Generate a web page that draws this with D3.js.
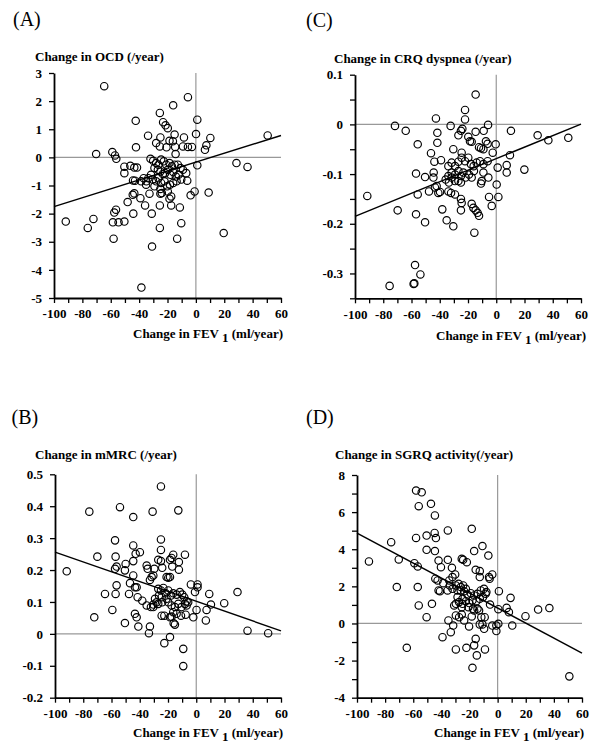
<!DOCTYPE html>
<html>
<head>
<meta charset="utf-8">
<script src="https://cdn.jsdelivr.net/npm/d3@7"></script>
<style>
  body { margin: 0; background: #fff; }
  svg text { font-family: "Liberation Serif", "Times New Roman", serif; }
</style>
</head>
<body>
<svg id="chart" width="600" height="753"></svg>
<script>
// shared x axis: change in FEV1 (ml/year)
const fevTicks = [-100, -90, -80, -70, -60, -50, -40, -30, -20, -10, 0, 10, 20, 30, 40, 50, 60];
const fevLabels = [-100, -80, -60, -40, -20, 0, 20, 40, 60];

// (A) OCD
const ocdTicks = [-5, -4, -3, -2, -1, 0, 1, 2, 3];
const ocdLabels = [-5, -4, -3, -2, -1, 0, 1, 2, 3];
const ocdFit = [-0.17, 0.0158]; // intercept, slope
const ocdPoints = [
  [-64.6,2.53],[-5.6,2.14],[-16.0,1.85],[-25.4,1.58],[1.0,1.34],[-42.4,1.30],[-23.1,1.25],[-21.4,1.14],
  [-19.8,1.04],[-33.7,0.77],[-15.0,0.81],[0.1,0.83],[-25.0,0.71],[-18.6,0.59],[-16.2,0.57],[-8.4,0.71],
  [10.2,0.69],[50.6,0.78],[-28.0,0.51],[-42.2,0.36],[-25.4,0.39],[-20.7,0.36],[-14.6,0.37],[-9.1,0.39],
  [-5.6,0.37],[-2.8,0.37],[7.4,0.43],[6.4,0.27],[-14.3,0.12],[-58.9,0.19],[-57.0,0.07],[-56.1,-0.05],
  [-70.3,0.12],[28.6,-0.20],[36.4,-0.34],[1.0,-0.28],[-50.4,-0.33],[-46.2,-0.30],[-43.4,-0.36],[-41.5,-0.36],
  [-50.4,-0.56],[-44.3,-0.82],[-42.9,-0.83],[-35.1,-0.97],[-32.7,-1.29],[-25.0,-1.29],[-44.5,-1.33],[-43.4,-1.28],
  [-48.1,-1.59],[-39.1,-1.45],[-35.8,-1.71],[-25.4,-1.71],[-18.6,-1.47],[-17.4,-1.71],[-11.3,-1.78],[-3.7,-1.35],
  [-0.9,-1.21],[9.0,-1.25],[-56.3,-1.86],[-57.5,-1.96],[-44.1,-2.00],[-31.1,-2.00],[-91.7,-2.28],[-72.2,-2.19],
  [-76.2,-2.51],[-58.5,-2.31],[-54.5,-2.31],[-50.4,-2.28],[-10.3,-2.34],[-25.4,-2.51],[-58.0,-2.89],[-13.2,-2.89],
  [19.6,-2.69],[-30.9,-3.17],[-38.4,-4.63],
  [-32.0,-0.05],[-30.1,-0.12],[-28.0,-0.20],[-26.4,-0.26],[-24.5,-0.08],[-22.6,-0.14],[-20.9,-0.26],[-18.6,-0.20],
  [-16.9,-0.32],[-15.0,-0.26],[-12.7,-0.26],[-10.8,-0.38],[-9.1,-0.44],[-6.8,-0.56],[-6.1,-0.83],[-29.2,-0.38],
  [-26.8,-0.44],[-25.0,-0.50],[-23.3,-0.59],[-21.7,-0.56],[-19.8,-0.44],[-17.9,-0.62],[-16.0,-0.52],[-14.1,-0.68],
  [-12.2,-0.62],[-10.3,-0.79],[-31.6,-0.62],[-33.5,-0.74],[-30.4,-0.79],[-28.0,-0.85],[-26.4,-0.74],[-24.5,-0.91],
  [-22.1,-0.85],[-20.2,-1.03],[-18.3,-0.97],[-16.0,-0.91],[-13.6,-0.85],[-34.9,-0.85],[-29.2,-1.03],[-25.0,-1.12],
  [-19.8,-1.21],[-17.4,-1.39],[-24.0,-1.27],[-36.8,-0.74],[-38.6,-0.85]
];

// (C) CRQ dyspnea
const crqTicks = [-0.35, -0.3, -0.25, -0.2, -0.15, -0.1, -0.05, 0, 0.05, 0.1];
const crqLabels = [-0.3, -0.2, -0.1, 0, 0.1];
const crqFit = [-0.069, 0.00116];
const crqPoints = [
  [-14.6,0.060],[-22.1,0.029],[-22.1,0.010],[-42.7,0.012],[-71.7,-0.003],[-64.1,-0.013],[-32.3,-0.003],[-24.0,-0.009],
  [-25.0,-0.013],[-41.7,-0.017],[-26.8,-0.022],[-14.6,-0.015],[-8.9,-0.013],[-5.8,-0.001],[10.4,-0.013],[29.3,-0.022],
  [36.9,-0.032],[51.0,-0.027],[-55.6,-0.040],[-41.7,-0.037],[-19.8,-0.025],[-18.6,-0.034],[-17.4,-0.035],[-7.3,-0.034],
  [-6.1,-0.039],[-12.2,-0.046],[-10.8,-0.048],[-9.1,-0.050],[-0.4,-0.040],[-46.2,-0.058],[-30.4,-0.050],[-24.5,-0.057],
  [-2.5,-0.057],[9.7,-0.062],[-43.8,-0.075],[-39.1,-0.072],
  [-33.9,-0.084],[-31.6,-0.077],[-29.2,-0.084],[-26.8,-0.075],[-24.5,-0.067],[-22.1,-0.074],[-19.8,-0.067],[-17.9,-0.080],
  [-16.0,-0.084],[-13.9,-0.077],[-11.5,-0.074],[-9.1,-0.080],[-6.1,-0.074],
  [1.0,-0.087],[7.4,-0.082],[7.4,-0.097],[19.9,-0.091],[-56.8,-0.099],[-50.4,-0.106],[-44.3,-0.097],[-44.5,-0.107],
  [-31.6,-0.097],[-29.2,-0.101],[-26.8,-0.094],[-25.0,-0.104],[-23.3,-0.097],[-21.7,-0.107],[-19.3,-0.101],[-17.4,-0.107],
  [-15.8,-0.094],[-25.0,-0.117],[-29.2,-0.114],[-26.8,-0.114],[-31.6,-0.107],[-33.9,-0.104],[-35.8,-0.111],[-33.5,-0.117],
  [-9.1,-0.097],[-10.3,-0.114],[-10.8,-0.119],[-5.6,-0.107],[0.3,-0.121],[-91.3,-0.144],[-55.6,-0.141],[-47.6,-0.135],
  [-43.4,-0.127],[-42.2,-0.124],[-41.0,-0.138],[-39.8,-0.136],[-33.9,-0.135],[-32.0,-0.138],[-29.2,-0.141],[-5.1,-0.146],
  [1.5,-0.146],[-69.8,-0.173],[-56.8,-0.181],[-38.2,-0.171],[-25.0,-0.150],[-24.5,-0.158],[-25.0,-0.173],[-17.4,-0.160],
  [-16.2,-0.168],[-14.6,-0.173],[-13.2,-0.178],[-12.2,-0.184],[-3.2,-0.164],[-50.4,-0.197],[-35.1,-0.193],[-30.4,-0.205],
  [-15.5,-0.218],[-57.5,-0.283],[-53.7,-0.302],[-58.0,-0.320],[-58.5,-0.321],[-75.5,-0.325]
];

// (B) mMRC
const mmrcTicks = [-0.2, -0.1, 0, 0.1, 0.2, 0.3, 0.4, 0.5];
const mmrcLabels = [-0.2, -0.1, 0, 0.1, 0.2, 0.3, 0.4, 0.5];
const mmrcFit = [0.102, -0.00154];
const mmrcPoints = [
  [-25.0,0.462],[-75.7,0.383],[-54.0,0.397],[-44.6,0.366],[-30.9,0.383],[-12.7,0.387],[-25.0,0.296],[-25.0,0.263],
  [-57.5,0.293],[-44.6,0.277],[-42.9,0.251],[-39.9,0.256],[-70.0,0.242],[-57.1,0.242],[-16.3,0.248],[-17.5,0.238],
  [-8.0,0.248],[-12.3,0.225],[-18.6,0.232],[-50.0,0.219],[-44.6,0.228],[-35.1,0.214],[-34.4,0.204],[-26.9,0.232],
  [-25.0,0.228],[-24.1,0.207],[-91.7,0.196],[-57.5,0.204],[-56.4,0.211],[-50.5,0.199],[-29.7,0.204],[-17.0,0.211],
  [-12.3,0.201],[-44.6,0.183],[-31.6,0.178],[-32.8,0.169],[-30.4,0.183],[-21.0,0.178],[-19.8,0.176],[-18.6,0.178],
  [-46.9,0.159],[-43.4,0.146],[-42.2,0.146],[-56.4,0.152],[-3.8,0.155],[0.9,0.155],[0.9,0.146],[-64.6,0.125],
  [-57.1,0.125],[-47.6,0.125],[-41.5,0.115],[-38.2,0.104],[-35.1,0.089],[-32.1,0.084],[-30.4,0.092],[9.2,0.125],
  [29.2,0.131],[19.8,0.096],[10.4,0.092],[-0.9,0.131],[-5.7,0.099],[-6.8,0.089],[0.2,0.075],[6.8,0.042],
  [7.3,0.075],[-59.4,0.075],[-72.2,0.052],[-50.5,0.034],[-43.4,0.063],[-42.2,0.052],[-41.0,0.023],[-32.8,0.023],
  [-33.5,0.002],[-24.5,0.057],[-22.6,0.057],[-17.5,0.054],[-16.0,0.033],[-15.1,0.029],[-10.8,0.057],[-7.5,0.060],
  [-2.1,0.052],[36.3,0.010],[50.9,0.002],[-18.6,-0.010],[-22.6,-0.029],[-9.2,-0.047],[-9.2,-0.101],
  [-26.9,0.141],[-25.0,0.136],[-23.3,0.144],[-21.7,0.127],[-19.8,0.136],[-26.4,0.120],[-24.5,0.115],[-21.0,0.110],
  [-17.9,0.120],[-16.3,0.127],[-13.9,0.123],[-11.6,0.131],[-9.9,0.123],[-8.5,0.115],[-6.8,0.102],[-29.2,0.110],
  [-28.1,0.099],[-30.4,0.084],[-26.9,0.094],[-24.1,0.099],[-19.8,0.099],[-17.5,0.089],[-15.1,0.084],[-12.7,0.094],
  [-10.4,0.084],[-16.3,0.068],[-13.9,0.063],[-18.6,0.052],[-8.0,0.094]
];

// (D) SGRQ activity
const sgrqTicks = [-4, -3, -2, -1, 0, 1, 2, 3, 4, 5, 6, 7, 8];
const sgrqLabels = [-4, -2, 0, 2, 4, 6, 8];
const sgrqFit = [0.83, -0.0404];
const sgrqPoints = [
  [-58.0,7.16],[-54.0,7.07],[-56.1,6.32],[-47.4,6.45],[-44.6,5.82],[-18.4,5.10],[-35.4,5.01],[-75.7,4.38],
  [-50.5,4.74],[-44.8,4.88],[-43.9,4.60],[-58.0,4.61],[-50.5,3.97],[-44.6,3.90],[-16.7,3.90],[-10.8,4.17],
  [-6.6,3.66],[-91.5,3.34],[-70.3,3.45],[-59.2,3.25],[-56.8,3.07],[-42.0,3.39],[-35.4,3.43],[-40.3,3.03],
  [-32.5,3.00],[-25.5,3.48],[-24.5,3.43],[-21.9,3.30],[-44.3,2.41],[-42.7,2.32],[-42.0,1.78],[-41.0,1.74],
  [-38.7,2.17],[-34.4,2.32],[-32.1,2.50],[-30.2,2.64],[-15.6,2.89],[-12.7,2.82],[-12.7,2.50],[-3.8,2.64],
  [-5.7,2.41],[-6.1,2.50],[-71.7,1.96],[-56.8,1.96],[0.9,1.74],[9.2,1.38],[-56.1,0.97],[-46.7,1.06],
  [-50.5,0.34],[-5.4,1.02],[6.4,0.84],[8.0,0.61],[19.8,0.39],[28.8,0.75],[36.8,0.83],[0.5,0.77],
  [-64.6,-1.31],[-39.2,-0.74],[-33.3,-0.47],[-35.0,0.16],[-31.6,-0.11],[-29.7,-1.40],[-22.2,-1.31],[-16.7,-1.18],
  [-15.6,-0.83],[-14.8,-1.72],[-9.0,-1.40],[-17.9,-2.39],[51.0,-2.85],[10.4,-0.11],[-3.8,-0.11],[-0.9,-0.11],
  [0.5,-0.02],[-0.9,-0.41],[-9.6,-0.29],[-12.7,-0.05],[-10.8,-0.05],[-9.2,0.34],[-11.6,0.34],[-20.3,-0.16],
  [-23.8,0.16],[-27.4,0.34],[-29.7,0.43],[-25.5,0.48],[-18.4,0.38],[-16.7,0.70],[-14.3,0.79],
  [-29.7,2.05],[-27.8,2.14],[-26.2,1.96],[-24.5,2.05],[-26.2,1.78],[-28.5,1.78],[-23.8,1.74],[-22.6,1.87],
  [-21.5,1.56],[-19.1,1.63],[-16.7,1.51],[-14.4,1.60],[-12.0,1.78],[-9.7,1.87],[-8.0,1.69],[-29.7,1.06],
  [-30.9,0.97],[-27.4,1.15],[-25.0,1.06],[-22.6,1.20],[-20.3,1.10],[-17.9,1.24],[-15.1,1.20],[-12.7,1.33],
  [-10.4,1.42],[-8.5,1.60],[-28.5,1.42],[-25.0,1.33],[-25.5,0.88],[-20.8,0.88],[-17.5,0.79],[-13.2,0.70],
  [-32.1,1.87],[-34.0,2.05],[-35.6,1.78]
];

const panels = [
  { tag: "(A)", title: "Change in OCD (/year)", pts: ocdPoints, fit: ocdFit,
    yDomain: [-5, 3], yTicks: ocdTicks, yLabels: ocdLabels,
    box: [54, 73, 281, 298], tagAt: [13, 26], titleAt: [35, 60.5], xTitleAt: [283, 338] },
  { tag: "(C)", title: "Change in CRQ dyspnea (/year)", pts: crqPoints, fit: crqFit,
    yDomain: [-0.35, 0.1], yTicks: crqTicks, yLabels: crqLabels,
    box: [355, 74.7, 581, 298.3], tagAt: [306, 27], titleAt: [334, 63], xTitleAt: [586, 340] },
  { tag: "(B)", title: "Change in mMRC (/year)", pts: mmrcPoints, fit: mmrcFit,
    yDomain: [-0.2, 0.5], yTicks: mmrcTicks, yLabels: mmrcLabels,
    box: [55, 474.3, 281, 697.7], tagAt: [11.5, 424], titleAt: [35, 459], xTitleAt: [283, 736.5] },
  { tag: "(D)", title: "Change in SGRQ activity(/year)", pts: sgrqPoints, fit: sgrqFit,
    yDomain: [-4, 8], yTicks: sgrqTicks, yLabels: sgrqLabels,
    box: [357, 475, 582, 697.7], tagAt: [306, 424], titleAt: [335, 459], xTitleAt: [584, 736.5] }
];

const svg = d3.select("#chart");
const fmt = v => String(+v.toFixed(2));

panels.forEach(p => {
  const [x0, y0, x1, y1] = p.box;
  const x = d3.scaleLinear().domain([-100, 60]).range([x0, x1]);
  const y = d3.scaleLinear().domain(p.yDomain).range([y1, y0]);
  const g = svg.append("g");

  g.append("text").attr("x", p.tagAt[0]).attr("y", p.tagAt[1])
    .style("font-size", "20px").text(p.tag);

  g.append("text").attr("x", p.titleAt[0]).attr("y", p.titleAt[1])
    .style("font-size", "13px").style("font-weight", "bold").text(p.title);

  // zero reference lines
  g.append("line").attr("x1", x0).attr("x2", x1).attr("y1", y(0)).attr("y2", y(0))
    .attr("stroke", "#999").attr("stroke-width", 1.2);
  g.append("line").attr("x1", x(0)).attr("x2", x(0)).attr("y1", y0).attr("y2", y1)
    .attr("stroke", "#999").attr("stroke-width", 1.2);

  // axes
  const xAxis = d3.axisBottom(x).tickValues(fevTicks).tickSize(5).tickSizeOuter(0).tickPadding(6)
    .tickFormat(v => fevLabels.includes(v) ? fmt(v) : "");
  const yAxis = d3.axisLeft(y).tickValues(p.yTicks).tickSize(5).tickSizeOuter(0).tickPadding(7)
    .tickFormat(v => p.yLabels.some(l => Math.abs(l - v) < 1e-9) ? fmt(v) : "");

  [g.append("g").attr("transform", `translate(0,${y1})`).call(xAxis),
   g.append("g").attr("transform", `translate(${x0},0)`).call(yAxis)].forEach(a => {
    a.select(".domain").attr("stroke", "#000").attr("stroke-width", 1.8);
    a.selectAll(".tick line").attr("stroke", "#000").attr("stroke-width", 1.3);
    a.selectAll(".tick text").attr("fill", "#000")
      .style("font-family", "'Liberation Serif', serif")
      .style("font-size", "13px").style("font-weight", "bold");
  });

  // regression line
  g.append("line")
    .attr("x1", x(-100)).attr("y1", y(p.fit[0] + p.fit[1] * -100))
    .attr("x2", x(60)).attr("y2", y(p.fit[0] + p.fit[1] * 60))
    .attr("stroke", "#000").attr("stroke-width", 1.4);

  g.append("g").selectAll("circle").data(p.pts).enter().append("circle")
    .attr("cx", d => x(d[0])).attr("cy", d => y(d[1])).attr("r", 3.7)
    .attr("fill", "none").attr("stroke", "#000").attr("stroke-width", 1.15);

  const xt = g.append("text").attr("x", p.xTitleAt[0]).attr("y", p.xTitleAt[1])
    .attr("text-anchor", "end").style("font-size", "13px").style("font-weight", "bold");
  xt.append("tspan").text("Change in FEV ");
  xt.append("tspan").attr("dy", 4).text("1");
  xt.append("tspan").attr("dy", -4).text(" (ml/year)");
});
</script>
</body>
</html>
